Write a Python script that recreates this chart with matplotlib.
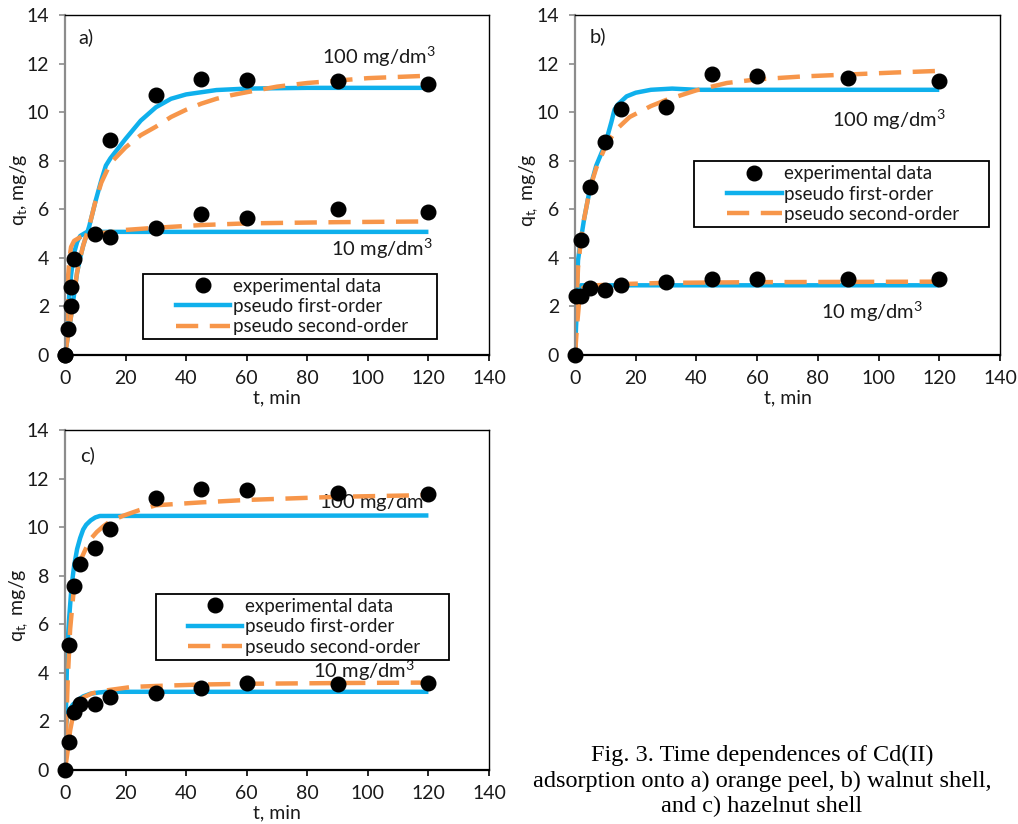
import matplotlib
matplotlib.use("Agg")
import matplotlib.pyplot as plt
from matplotlib.lines import Line2D
from matplotlib.patches import Rectangle

plt.rcParams["font.family"] = ["Lato", "DejaVu Sans"]
plt.rcParams["mathtext.fontset"] = "custom"
plt.rcParams["mathtext.rm"] = "Lato"
plt.rcParams["mathtext.it"] = "Lato"
plt.rcParams["mathtext.default"] = "regular"

BLUE = "#0FB0EC"
ORANGE = "#F7964A"

# ---- a) orange peel ----
A_EXP10_T = [0, 2, 3, 10, 15, 30, 45, 60, 90, 120]
A_EXP10_Q = [0, 2.8, 3.96, 4.98, 4.86, 5.23, 5.8, 5.63, 6.0, 5.89]
A_EXP100_T = [0, 1, 2, 15, 30, 45, 60, 90, 120]
A_EXP100_Q = [0, 1.07, 2.02, 8.85, 10.7, 11.37, 11.33, 11.3, 11.17]

A_PFO100_T = [0, 1, 2, 3, 4, 5, 6, 7, 8, 10, 12, 13.5, 15, 20, 25, 30, 35, 40, 50, 60, 80, 120]
A_PFO100_Q = [0, 0.8, 1.6, 2.5, 3.4, 4.0, 4.5, 4.9, 5.3, 6.3, 7.2, 7.8, 8.1, 8.9, 9.65, 10.2, 10.55, 10.73, 10.91, 10.97, 11.0, 11.0]
A_PSO100_T = [0, 1, 2, 3, 4, 5, 6, 7, 8, 10, 12, 15, 20, 25, 30, 35, 40, 45, 50, 55, 60, 70, 80, 90, 100, 120]
A_PSO100_Q = [0, 0.8, 1.6, 2.5, 3.4, 4.0, 4.5, 4.9, 5.3, 6.3, 7.1, 7.9, 8.55, 9.05, 9.4, 9.8, 10.1, 10.35, 10.55, 10.7, 10.82, 11.05, 11.2, 11.3, 11.4, 11.5]
A_PFO10_T = [0, 0.5, 1, 1.5, 2, 3, 4, 5, 7, 10, 120]
A_PFO10_Q = [0, 1.0, 1.9, 2.6, 3.3, 4.2, 4.65, 4.9, 5.05, 5.07, 5.07]
A_PSO10_T = [0, 0.5, 1, 1.5, 2, 3, 5, 8, 15, 20, 30, 45, 60, 90, 120]
A_PSO10_Q = [0, 1.6, 3.2, 4.0, 4.45, 4.7, 4.85, 5.0, 5.05, 5.15, 5.24, 5.35, 5.42, 5.47, 5.5]

# ---- b) walnut shell ----
B_EXP10_T = [0.3, 2, 5, 10, 15, 30, 45, 60, 90, 120]
B_EXP10_Q = [2.43, 2.43, 2.74, 2.68, 2.88, 3.02, 3.12, 3.12, 3.12, 3.12]
B_EXP100_T = [0, 2, 5, 10, 15, 30, 45, 60, 90, 120]
B_EXP100_Q = [0, 4.74, 6.9, 8.78, 10.13, 10.23, 11.57, 11.49, 11.42, 11.3]

B_PFO100_T = [0, 0.5, 1, 2, 3, 5, 7, 10, 12, 13, 14, 17, 20, 25, 32, 40, 120]
B_PFO100_Q = [0, 2.3, 3.9, 4.8, 5.6, 6.9, 7.8, 8.7, 9.6, 10.1, 10.3, 10.65, 10.8, 10.92, 10.97, 10.92, 10.92]
B_PSO100_T = [0, 0.5, 1, 2, 3, 5, 7, 10, 13.5, 18, 25, 30, 40, 50, 60, 75, 90, 105, 120]
B_PSO100_Q = [0, 2.2, 3.6, 4.8, 5.6, 6.9, 7.7, 8.58, 9.27, 9.8, 10.25, 10.5, 10.9, 11.2, 11.35, 11.47, 11.55, 11.63, 11.7]
B_PFO10_T = [0, 0.5, 1, 1.5, 2, 120]
B_PFO10_Q = [0, 1.7, 2.6, 2.8, 2.87, 2.87]
B_PSO10_T = [0, 0.5, 0.8, 1.6, 2.5, 3.8, 15, 30, 60, 120]
B_PSO10_Q = [0, 0.9, 1.4, 2.5, 2.75, 2.85, 2.92, 2.97, 3.0, 3.02]

# ---- c) hazelnut shell ----
C_EXP10_T = [1.4, 3, 5, 10, 15, 30, 45, 60, 90, 120]
C_EXP10_Q = [1.14, 2.39, 2.73, 2.7, 3.0, 3.16, 3.36, 3.6, 3.55, 3.6]
C_EXP100_T = [0, 1.4, 3, 5, 10, 15, 30, 45, 60, 90, 120]
C_EXP100_Q = [0, 5.14, 7.56, 8.5, 9.14, 9.93, 11.2, 11.57, 11.53, 11.39, 11.35]

C_PFO100_T = [0, 0.3, 0.65, 1, 1.4, 2, 2.5, 3, 4, 5, 6, 7, 8.5, 10, 11.5, 120]
C_PFO100_Q = [0, 2.3, 4.4, 5.5, 6.3, 7.3, 7.9, 8.4, 9.1, 9.55, 9.9, 10.1, 10.28, 10.4, 10.46, 10.48]
C_PSO100_T = [0, 0.4, 0.9, 1.7, 3, 4, 5.2, 7, 8.4, 10.5, 12.7, 15, 19, 24.5, 30, 45, 60, 90, 120]
C_PSO100_Q = [0, 1.8, 3.7, 5.8, 7.56, 8.2, 8.66, 9.15, 9.5, 9.8, 10.04, 10.25, 10.46, 10.7, 10.9, 11.02, 11.12, 11.25, 11.32]
C_PFO10_T = [0, 0.2, 0.4, 0.8, 1.4, 2.5, 4.1, 6, 8.4, 11, 13.8, 120]
C_PFO10_Q = [0, 1.1, 1.9, 2.25, 2.45, 2.68, 2.87, 3.03, 3.14, 3.19, 3.22, 3.22]
C_PSO10_T = [0, 0.9, 1.7, 3, 4.5, 6.2, 9, 13.8, 22, 30, 45, 60, 90, 120]
C_PSO10_Q = [0, 0.8, 1.63, 2.46, 2.8, 3.0, 3.16, 3.28, 3.42, 3.46, 3.52, 3.55, 3.58, 3.6]

TIME_TICKS = [0, 20, 40, 60, 80, 100, 120, 140]
Q_TICKS = [0, 2, 4, 6, 8, 10, 12, 14]
LEGEND_LABELS = ["experimental data", "pseudo first-order", "pseudo second-order"]
CAPTION = ("Fig. 3. Time dependences of Cd(II)\n"
           "adsorption onto a) orange peel, b) walnut shell,\n"
           "and c) hazelnut shell")

W, H = 1018, 824
DASH = (5, 2.6)


def px_axes(left, top, right, bottom):
    return [left / W, 1 - bottom / H, (right - left) / W, (bottom - top) / H]


def draw_panel(ax, exp, pfo, pso, tag, ylab, notes, box, handle_x):
    for t, q in pfo:
        ax.plot(t, q, color=BLUE, lw=3.2, solid_capstyle="butt", zorder=2)
    for t, q in pso:
        ax.plot(t, q, color=ORANGE, lw=3.2, dashes=DASH, zorder=2.5)
    for t, q in exp:
        ax.plot(t, q, "o", color="black", ms=10.5, zorder=4, clip_on=False)

    ax.set_xlim(0, 140)
    ax.set_ylim(0, 14)
    ax.set_xticks(TIME_TICKS)
    ax.set_yticks(Q_TICKS)
    ax.tick_params(axis="x", direction="out", length=4.5, width=1.2,
                   color="black", labelsize=14, labelcolor="#1a1a1a", pad=6)
    ax.tick_params(axis="y", direction="out", length=4.5, width=1.2,
                   color="#8c8c8c", labelsize=14, labelcolor="#1a1a1a", pad=7)
    ax.spines["left"].set_color("#8c8c8c")
    ax.spines["left"].set_linewidth(1.6)
    ax.spines["bottom"].set_linewidth(1.6)
    ax.spines["top"].set_linewidth(1.0)
    ax.spines["right"].set_linewidth(1.0)

    ax.text(0.5, -0.125, "t, min", transform=ax.transAxes, ha="center",
            va="center", fontsize=14, color="#1a1a1a")
    ax.text(-0.11, 0.485, ylab, transform=ax.transAxes, ha="center",
            va="center", rotation=90, fontsize=14, color="#1a1a1a")
    ax.text(tag[1], tag[2], tag[0], ha="left", va="center", fontsize=14.5,
            color="#1a1a1a")
    for txt, x, y in notes:
        ax.text(x, y, txt, ha="right", va="baseline", fontsize=14.5,
                color="#1a1a1a", zorder=1.5)

    x0, y0, x1, y1 = box
    ax.add_patch(Rectangle((x0, y0), x1 - x0, y1 - y0, transform=ax.transAxes,
                           fill=False, ec="black", lw=1.3, zorder=5))
    handles = [
        Line2D([], [], ls="none", marker="o", color="black", ms=10.5),
        Line2D([], [], color=BLUE, lw=3.2),
        Line2D([], [], color=ORANGE, lw=3.2, dashes=DASH),
    ]
    leg = ax.legend(handles, LEGEND_LABELS, loc="center left",
                    bbox_to_anchor=(handle_x, (y0 + y1) / 2), frameon=False,
                    fontsize=13.5, handlelength=2.9, handletextpad=0.15,
                    labelspacing=0.18, borderpad=0, borderaxespad=0)
    for txt in leg.get_texts():
        txt.set_color("#1a1a1a")


fig = plt.figure(figsize=(W / 100, H / 100), dpi=100)
ax_a = fig.add_axes(px_axes(65, 15, 489, 355))
ax_b = fig.add_axes(px_axes(575, 15, 1000, 355))
ax_c = fig.add_axes(px_axes(65, 430, 489, 770))

draw_panel(
    ax_a,
    exp=[(A_EXP10_T, A_EXP10_Q), (A_EXP100_T, A_EXP100_Q)],
    pfo=[(A_PFO10_T, A_PFO10_Q), (A_PFO100_T, A_PFO100_Q)],
    pso=[(A_PSO10_T, A_PSO10_Q), (A_PSO100_T, A_PSO100_Q)],
    tag=("a)", 4.3, 13.1),
    ylab="q$_t$, mg/g",
    notes=[("100 mg/dm$^3$", 122.3, 12.0), ("10 mg/dm$^3$", 121.6, 4.1)],
    box=(0.184, 0.047, 0.877, 0.238),
    handle_x=0.262,
)
draw_panel(
    ax_b,
    exp=[(B_EXP10_T, B_EXP10_Q), (B_EXP100_T, B_EXP100_Q)],
    pfo=[(B_PFO10_T, B_PFO10_Q), (B_PFO100_T, B_PFO100_Q)],
    pso=[(B_PSO10_T, B_PSO10_Q), (B_PSO100_T, B_PSO100_Q)],
    tag=("b)", 4.9, 13.13),
    ylab="q$_{t,}$ mg/g",
    notes=[("100 mg/dm$^3$", 122.2, 9.4), ("10 mg/dm$^3$", 114.6, 1.5)],
    box=(0.28, 0.376, 0.974, 0.571),
    handle_x=0.358,
)
draw_panel(
    ax_c,
    exp=[(C_EXP10_T, C_EXP10_Q), (C_EXP100_T, C_EXP100_Q)],
    pfo=[(C_PFO10_T, C_PFO10_Q), (C_PFO100_T, C_PFO100_Q)],
    pso=[(C_PSO10_T, C_PSO10_Q), (C_PSO100_T, C_PSO100_Q)],
    tag=("c)", 4.95, 12.97),
    ylab="q$_{t,}$ mg/g",
    notes=[("100 mg/dm$^3$", 121.6, 10.77), ("10 mg/dm$^3$", 115.5, 3.79)],
    box=(0.215, 0.324, 0.906, 0.518),
    handle_x=0.29,
)

fig.text(762 / W, 1 - 781 / H, CAPTION, ha="center", va="center",
         multialignment="center", family="Liberation Serif", fontsize=17.5,
         linespacing=1.25)

fig.savefig("out.png", dpi=100)
